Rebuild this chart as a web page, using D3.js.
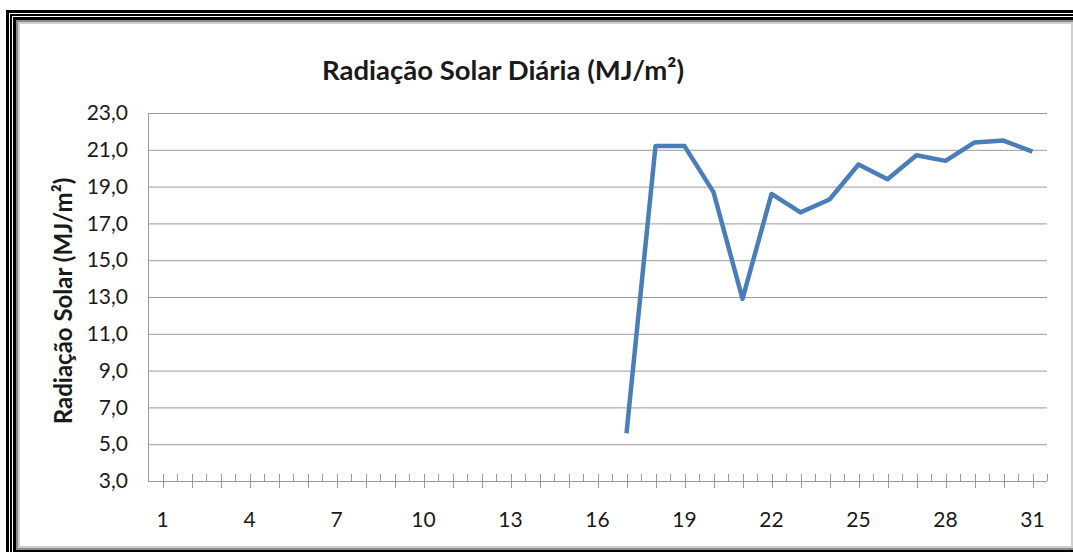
<!DOCTYPE html>
<html>
<head>
<meta charset="utf-8">
<script src="https://cdnjs.cloudflare.com/ajax/libs/d3/7.8.5/d3.min.js"></script>
<style>
  body { margin: 0; background: #fff; overflow: hidden; }
  text { font-family: Lato, "Open Sans", sans-serif; fill: #1a1a1a; }
</style>
</head>
<body>
<div id="chart"></div>
<script>
// dados: dias do mes e radiacao (null = sem medicao)
var days = d3.range(1, 32);
var radiation = [null, null, null, null, null, null, null, null, null, null,
  null, null, null, null, null, null,
  5.6, 21.2, 21.2, 18.7, 12.9, 18.6, 17.6, 18.3, 20.2, 19.4, 20.7, 20.4, 21.4, 21.5, 20.9];
var yTicks = [3, 5, 7, 9, 11, 13, 15, 17, 19, 21, 23];
var xLabels = [1, 4, 7, 10, 13, 16, 19, 22, 25, 28, 31];

var svgwidth = 1073, svgheight = 552;
var margin = {top: 113, right: 26, bottom: 71, left: 148};
var width = svgwidth - margin.left - margin.right,
    height = svgheight - margin.top - margin.bottom;

var svg = d3.select('#chart')
  .append('svg')
    .attr('width', svgwidth)
    .attr('height', svgheight);

// moldura (borda tripla com sombra)
var frame = {x: 6, y: 10, w: 1079, h: 550};
[[0, 3, '#000'], [4, 2, '#000'], [7, 3, '#000'], [10, 2, '#8a8a8a'], [12, 2, '#cfcfcf']]
  .forEach(function(b) {
    svg.append('rect')
      .attr('x', frame.x + b[0] + b[1] / 2)
      .attr('y', frame.y + b[0] + b[1] / 2)
      .attr('width', frame.w - 2 * b[0] - b[1])
      .attr('height', frame.h - 2 * b[0] - b[1])
      .attr('fill', 'none')
      .attr('stroke', b[2])
      .attr('stroke-width', b[1]);
  });

var x = d3.scaleBand()
  .domain(days)
  .range([0, width]);

var y = d3.scaleLinear()
  .domain([3, 23])
  .range([height, 0]);

var focus = svg.append('g')
  .attr('transform', 'translate(' + margin.left + ',' + margin.top + ')');

// linhas de grade
focus.selectAll('.grid')
  .data(yTicks.slice(1))
  .enter().append('line')
    .attr('x1', 0).attr('x2', width)
    .attr('y1', function(d) { return y(d) + 0.5; })
    .attr('y2', function(d) { return y(d) + 0.5; })
    .attr('stroke', '#9a9a9a')
    .attr('stroke-width', 1);

// eixo y
var yAxis = d3.axisLeft(y)
  .tickValues(yTicks)
  .tickSize(0)
  .tickPadding(20)
  .tickFormat(function(d) { return d3.format('.1f')(d).replace('.', ','); });

var gY = focus.append('g').call(yAxis);
gY.select('.domain').attr('stroke', '#9a9a9a').attr('d', 'M0.5,0V' + height);
gY.selectAll('text').attr('font-size', 21).attr('fill', '#1a1a1a');

// eixo x
var gX = focus.append('g').attr('transform', 'translate(0,' + height + ')');
gX.append('line')
  .attr('x1', 0).attr('x2', width)
  .attr('y1', 0.5).attr('y2', 0.5)
  .attr('stroke', '#9a9a9a');
// marcas nos limites das categorias
gX.selectAll('.tb')
  .data(days.concat([32]))
  .enter().append('line')
    .attr('x1', function(d) { return Math.round(d === 32 ? width : x(d)) + 0.5; })
    .attr('x2', function(d) { return Math.round(d === 32 ? width : x(d)) + 0.5; })
    .attr('y1', -7).attr('y2', 0)
    .attr('stroke', '#9a9a9a');
// marcas no centro das categorias
gX.selectAll('.tc')
  .data(days)
  .enter().append('line')
    .attr('x1', function(d) { return Math.round(x(d) + x.bandwidth() / 2) + 0.5; })
    .attr('x2', function(d) { return Math.round(x(d) + x.bandwidth() / 2) + 0.5; })
    .attr('y1', -7).attr('y2', 7)
    .attr('stroke', '#9a9a9a');
gX.selectAll('.xl')
  .data(xLabels)
  .enter().append('text')
    .attr('x', function(d) { return x(d) + x.bandwidth() / 2; })
    .attr('y', 46)
    .attr('text-anchor', 'middle')
    .attr('font-size', 21)
    .text(function(d) { return d; });

// serie
var line = d3.line()
  .defined(function(d) { return d.v !== null; })
  .x(function(d) { return x(d.day) + x.bandwidth() / 2; })
  .y(function(d) { return y(d.v); });

focus.append('path')
  .datum(days.map(function(d, i) { return {day: d, v: radiation[i]}; }))
  .attr('fill', 'none')
  .attr('stroke', '#4a7ebb')
  .attr('stroke-width', 4.5)
  .attr('stroke-linejoin', 'round')
  .attr('d', line);

// titulos
svg.append('text')
  .attr('x', 503)
  .attr('y', 80)
  .attr('text-anchor', 'middle')
  .attr('font-size', 27.5)
  .attr('font-weight', 'bold')
  .text('Radiação Solar Diária (MJ/m²)');

svg.append('text')
  .attr('transform', 'translate(72,301) rotate(-90)')
  .attr('text-anchor', 'middle')
  .attr('font-size', 24)
  .attr('font-weight', 'bold')
  .text('Radiação Solar (MJ/m²)');
</script>
</body>
</html>
